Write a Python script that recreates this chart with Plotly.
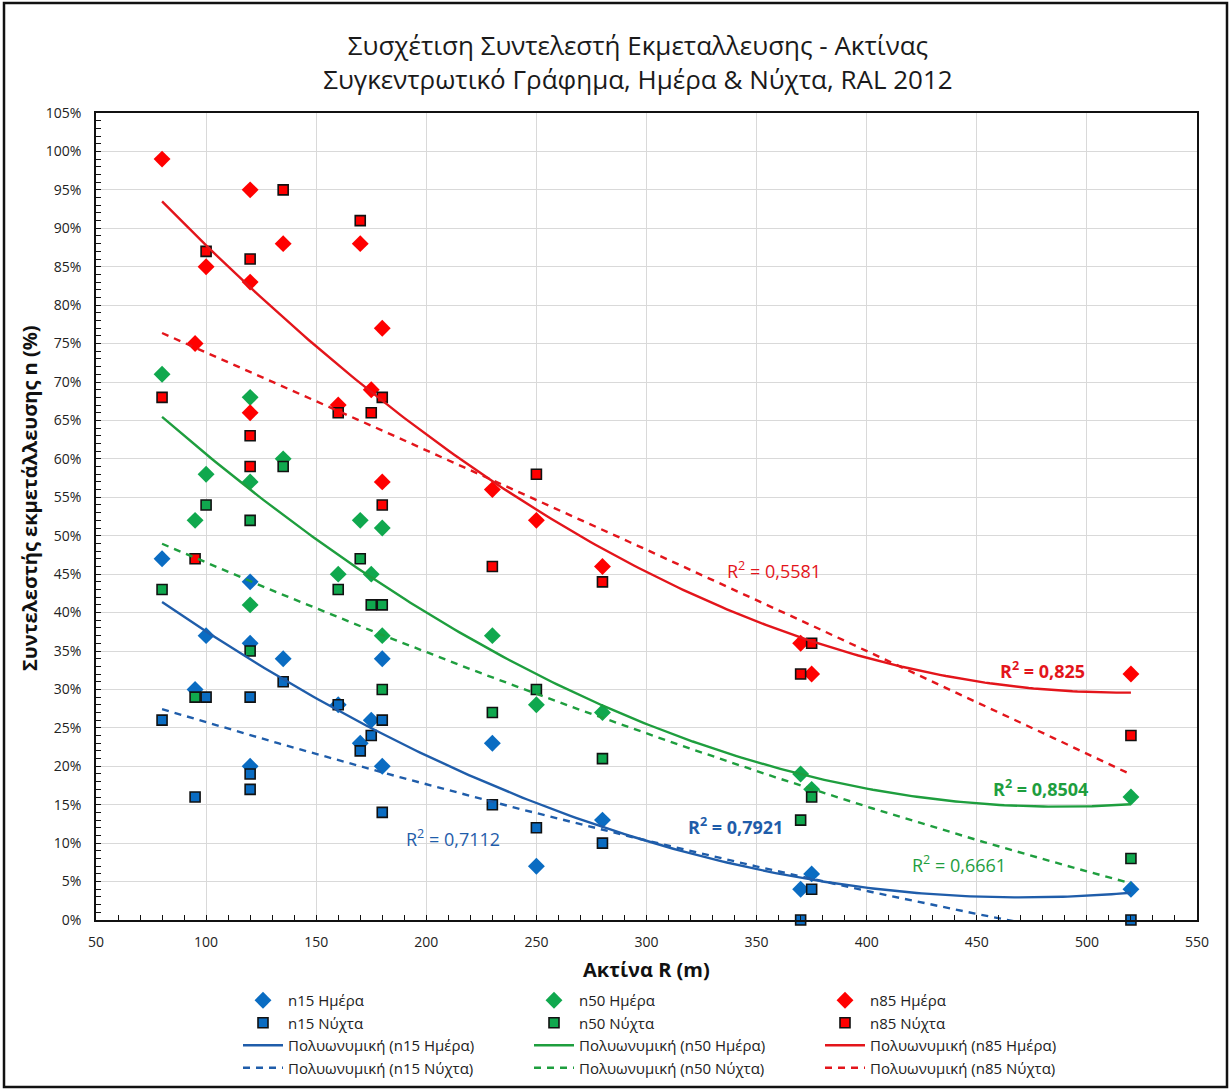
import numpy as np
import plotly.graph_objects as go

# ---------------- data ----------------
radius = [80, 95, 100, 120, 120, 120, 135, 160, 170, 175, 180, 180, 230, 250, 280, 370, 375, 520]
radius_n50_night = [80, 95, 100, 120, 120, 135, 160, 170, 175, 180, 180, 230, 250, 280, 370, 375, 520]

n15_day = [47, 30, 37, 44, 36, 20, 34, 28, 23, 26, 34, 20, 23, 7, 13, 4, 6, 4]
n15_night = [26, 16, 29, 29, 19, 17, 31, 28, 22, 24, 26, 14, 15, 12, 10, 0, 4, 0]
n50_day = [71, 52, 58, 68, 57, 41, 60, 45, 52, 45, 51, 37, 37, 28, 27, 19, 17, 16]
n50_night = [43, 29, 54, 52, 35, 59, 43, 47, 41, 41, 30, 27, 30, 21, 13, 16, 8]
n85_day = [99, 75, 85, 95, 83, 66, 88, 67, 88, 69, 77, 57, 56, 52, 46, 36, 32, 32]
n85_night = [68, 47, 87, 86, 63, 59, 95, 66, 91, 66, 68, 54, 46, 58, 44, 32, 36, 24]

r2_labels = ["0,7921", "0,7112", "0,8504", "0,6661", "0,825", "0,5581"]

# ---------------- styles ----------------
FONT = "Open Sans"
BLUE_M, BLUE_L = "#0A6CC2", "#1F5DAA"
GREEN_M, GREEN_L = "#10A84E", "#1E9E3E"
RED_M, RED_L = "#FF0000", "#E3151B"

fig = go.Figure()

def markers(x, y, name, color, symbol):
    if symbol == "diamond":
        mk = dict(symbol="diamond", size=13, color=color, line=dict(width=0))
    else:
        mk = dict(symbol="square", size=10, color=color, line=dict(width=1.6, color="#111111"))
    fig.add_trace(go.Scatter(x=x, y=y, mode="markers", name=name, marker=mk, cliponaxis=False))

markers(radius, n15_day, "n15 Ημέρα", BLUE_M, "diamond")
markers(radius, n50_day, "n50 Ημέρα", GREEN_M, "diamond")
markers(radius, n85_day, "n85 Ημέρα", RED_M, "diamond")
markers(radius, n15_night, "n15 Νύχτα", BLUE_M, "square")
markers(radius_n50_night, n50_night, "n50 Νύχτα", GREEN_M, "square")
markers(radius, n85_night, "n85 Νύχτα", RED_M, "square")

def trend(x, y, name, color, dash):
    c = np.polyfit(np.array(x, float), np.array(y, float), 2)
    xs = np.linspace(min(x), max(x), 200)
    ys = np.polyval(c, xs)
    fig.add_trace(go.Scatter(x=xs, y=ys, mode="lines", name=name,
                             line=dict(color=color, width=2.4, dash=dash), hoverinfo="skip"))

DASH = "7px,6px"
trend(radius, n15_day, "Πολυωνυμική (n15 Ημέρα)", BLUE_L, "solid")
trend(radius, n50_day, "Πολυωνυμική (n50 Ημέρα)", GREEN_L, "solid")
trend(radius, n85_day, "Πολυωνυμική (n85 Ημέρα)", RED_L, "solid")
trend(radius, n15_night, "Πολυωνυμική (n15 Νύχτα)", BLUE_L, DASH)
trend(radius_n50_night, n50_night, "Πολυωνυμική (n50 Νύχτα)", GREEN_L, DASH)
trend(radius, n85_night, "Πολυωνυμική (n85 Νύχτα)", RED_L, DASH)

# ---------------- R² annotations ----------------
r2_pos = [(340.5, 12.2, BLUE_L, True), (212, 10.7, BLUE_L, False),
          (479, 17.2, GREEN_L, True), (442, 7.3, GREEN_L, False),
          (480, 32.5, RED_L, True), (358, 45.5, RED_L, False)]
annotations = []
for lab, (ax, ay, col, bold) in zip(r2_labels, r2_pos):
    txt = f"R<sup>2</sup> = {lab}"
    if bold:
        txt = f"<b>{txt}</b>"
    annotations.append(dict(x=ax, y=ay, xref="x", yref="y", text=txt, showarrow=False,
                            xanchor="center", yanchor="middle",
                            font=dict(family=FONT, size=18, color=col)))

W, H = 1230, 1090
L, R, T, B = 96, 33, 113, 170
pw, ph = W - L - R, H - T - B

annotations.append(dict(xref="paper", yref="paper", x=(30 - L) / pw, y=(920 - 499) / ph,
                        xanchor="center", yanchor="middle",
                        text="<b>Συντελεστής εκμετάλλευσης n (%)</b>", textangle=-90,
                        showarrow=False, font=dict(family=FONT, size=20, color="#111111")))
annotations.append(dict(xref="paper", yref="paper", x=(646 - L) / pw, y=-(969 - (T + ph)) / ph,
                        xanchor="center", yanchor="middle",
                        text="<b>Ακτίνα R (m)</b>", showarrow=False,
                        font=dict(family=FONT, size=20, color="#111111")))

axis_common = dict(showgrid=True, gridcolor="#D9D9D9", gridwidth=1,
                   showline=True, linecolor="#111111", linewidth=1.5, mirror=True,
                   ticks="inside", ticklen=5, tickcolor="#111111", zeroline=False,
                   tickfont=dict(family=FONT, size=14, color="#222222"))

fig.update_layout(
    width=W, height=H,
    margin=dict(l=L, r=R, t=T, b=B, autoexpand=False),
    paper_bgcolor="white", plot_bgcolor="white",
    title=dict(text="Συσχέτιση Συντελεστή Εκμεταλλευσης - Ακτίνας<br>Συγκεντρωτικό Γράφημα, Ημέρα & Νύχτα, RAL 2012",
               x=638 / W, xanchor="center", y=1 - 55 / H, yanchor="middle",
               font=dict(family=FONT, size=26, color="#1A1A1A")),
    xaxis=dict(range=[50, 550], tick0=50, dtick=50, ticklabelstandoff=8,
               minor=dict(dtick=10, ticks="inside", ticklen=5, tickcolor="#111111", showgrid=False),
               **axis_common),
    yaxis=dict(range=[0, 105], tick0=0, dtick=5, ticksuffix="%", ticklabelstandoff=10,
               minor=dict(dtick=1, ticks="inside", ticklen=5, tickcolor="#111111", showgrid=False),
               **axis_common),
    legend=dict(orientation="h", x=(238 - L) / pw, xanchor="left", y=-(984 - (T + ph)) / ph, yanchor="top",
                entrywidth=236, entrywidthmode="pixels", itemwidth=40, tracegroupgap=0,
                font=dict(family=FONT, size=15, color="#222222"), bgcolor="rgba(0,0,0,0)"),
    annotations=annotations,
    shapes=[dict(type="rect", xref="paper", yref="paper",
                 x0=(4 - L) / pw, x1=(1227 - L) / pw,
                 y0=-(1087 - (T + ph)) / ph, y1=(T + ph - 3) / ph,
                 line=dict(color="#111111", width=2.5), fillcolor="rgba(0,0,0,0)", layer="below")],
    showlegend=True,
)

fig.write_html("out.html")
